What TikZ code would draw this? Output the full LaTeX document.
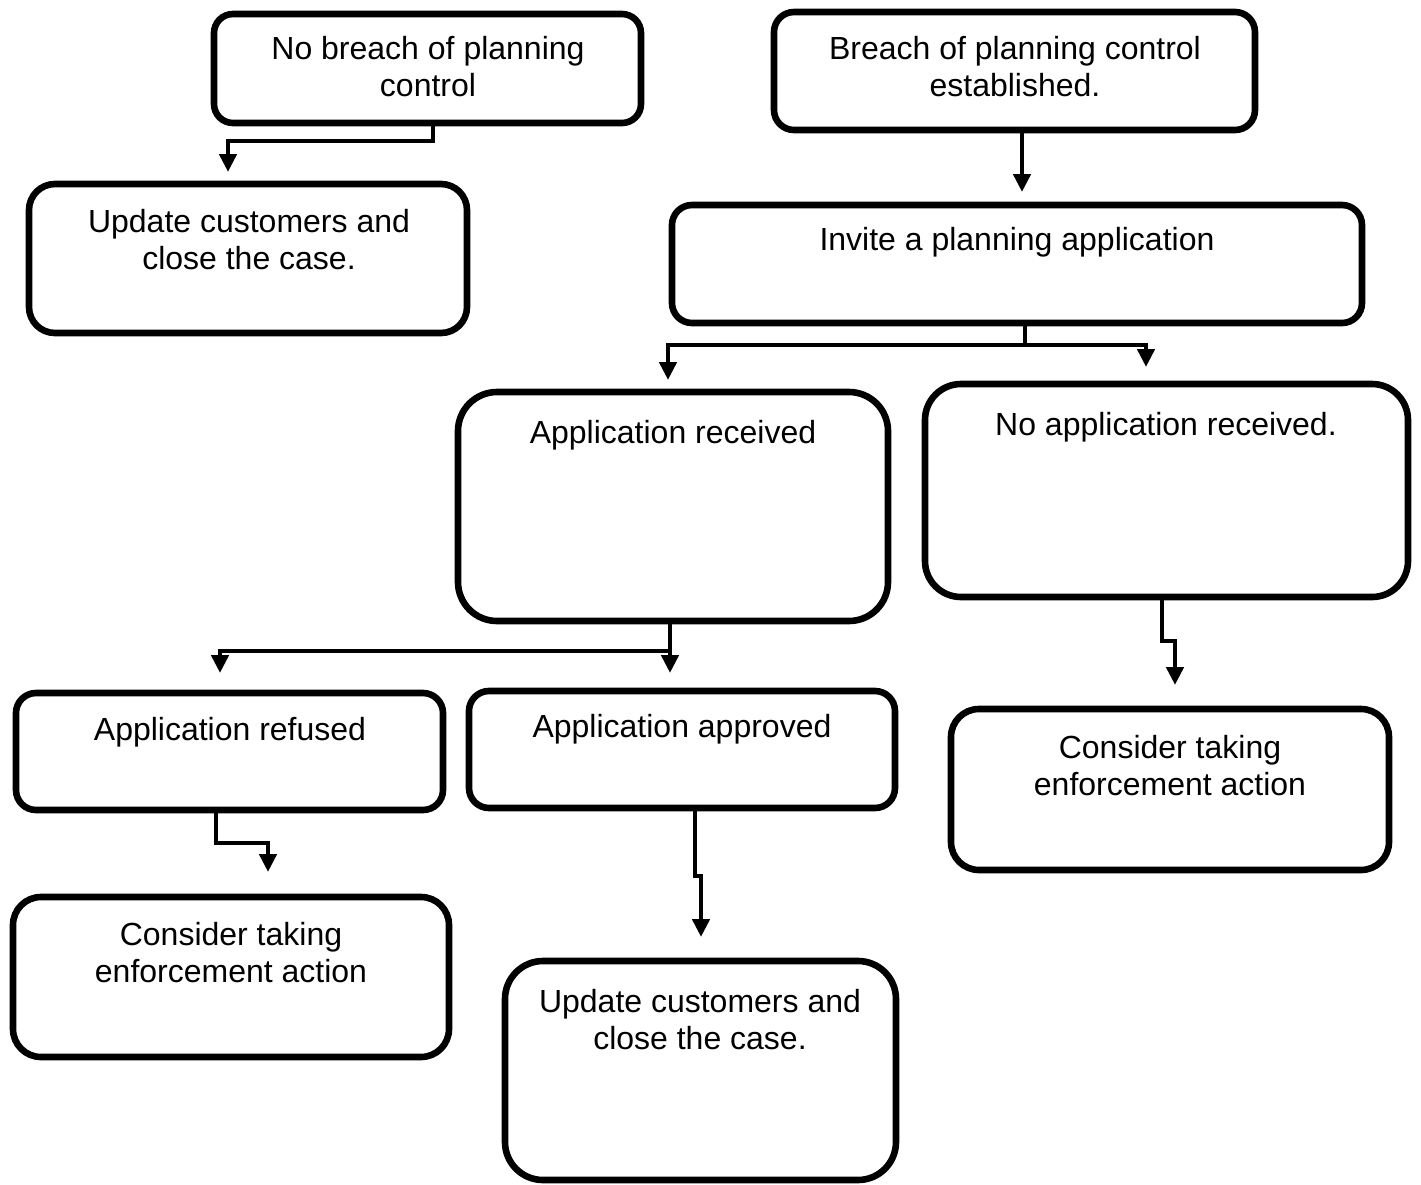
\documentclass[tikz,border=0pt]{standalone}
\usepackage{fontspec}
\setmainfont{Liberation Sans}
\usetikzlibrary{arrows.meta}
\begin{document}
\begin{tikzpicture}[x=0.5pt,y=-0.5pt,
  box/.style={draw=black, line width=3.3pt, fill=white, inner sep=0pt, shape=rectangle},
  lbl/.style={anchor=north, inner sep=0pt, align=center, font=\fontsize{16}{18.5}\selectfont},
  conn/.style={draw=black, line width=2.4pt, -{Triangle[width=8.5pt,length=9pt]}}
]
\useasboundingbox[fill=white] (0,0) rectangle (1421,1185);
% boxes
\node[box, rounded corners=9.5pt, minimum width=213.5pt, minimum height=54.5pt] (b1) at (427.5,68.5) {};
\node[box, rounded corners=10pt, minimum width=240.5pt, minimum height=59pt] (b2) at (1014.5,71) {};
\node[box, rounded corners=13pt, minimum width=219pt, minimum height=74.5pt] (b3) at (248,258.5) {};
\node[box, rounded corners=10pt, minimum width=345pt, minimum height=59pt] (b4) at (1017,264) {};
\node[box, rounded corners=19.5pt, minimum width=215pt, minimum height=114.5pt] (b5) at (673,506.5) {};
\node[box, rounded corners=18pt, minimum width=241.5pt, minimum height=106.5pt] (b6) at (1166.5,490.5) {};
\node[box, rounded corners=10pt, minimum width=213.5pt, minimum height=58.5pt] (b7) at (229.5,751.5) {};
\node[box, rounded corners=10pt, minimum width=213pt, minimum height=58.5pt] (b8) at (682,749.5) {};
\node[box, rounded corners=14pt, minimum width=219pt, minimum height=80.5pt] (b9) at (1170,789.5) {};
\node[box, rounded corners=14pt, minimum width=218pt, minimum height=80pt] (b10) at (231,977) {};
\node[box, rounded corners=19pt, minimum width=195.5pt, minimum height=109.5pt] (b11) at (700.5,1070.5) {};
% labels
\node[lbl] (t1) at (428,35) {\rule{0pt}{12pt}No breach of planning\\control};
\node[lbl] (t2) at (1015,35) {\rule{0pt}{12pt}Breach of planning control\\established.};
\node[lbl] (t3) at (249,208) {\rule{0pt}{12pt}Update customers and\\close the case.};
\node[lbl] (t4) at (1017,226) {\rule{0pt}{12pt}Invite a planning application};
\node[lbl] (t5) at (673,419) {\rule{0pt}{12pt}Application received};
\node[lbl] (t6) at (1166,411) {\rule{0pt}{12pt}No application received.};
\node[lbl] (t7) at (230,716) {\rule{0pt}{12pt}Application refused};
\node[lbl] (t8) at (682,713) {\rule{0pt}{12pt}Application approved};
\node[lbl] (t9) at (1170,734) {\rule{0pt}{12pt}Consider taking\\enforcement action};
\node[lbl] (t10) at (231,921) {\rule{0pt}{12pt}Consider taking\\enforcement action};
\node[lbl] (t11) at (700,988) {\rule{0pt}{12pt}Update customers and\\close the case.};
% connector coordinates
\coordinate (c1a) at (433,141);
\coordinate (c1b) at (228,141);
\coordinate (c1t) at (228,172);
\coordinate (c2t) at (1022,192);
\coordinate (c3a) at (1025,345);
\coordinate (c3l) at (668,345);
\coordinate (c3lt) at (668,380);
\coordinate (c3r) at (1146,345);
\coordinate (c3rt) at (1146,367);
\coordinate (c4a) at (670,651);
\coordinate (c4l) at (220,651);
\coordinate (c4lt) at (220,673);
\coordinate (c4t) at (670,673);
\coordinate (c5a) at (1162,641);
\coordinate (c5b) at (1175,641);
\coordinate (c5t) at (1175,685);
\coordinate (c6a) at (216,843);
\coordinate (c6b) at (268,843);
\coordinate (c6t) at (268,872);
\coordinate (c7a) at (695,876);
\coordinate (c7b) at (701,876);
\coordinate (c7t) at (701,937);
% connectors
\draw[conn] (b1.south -| c1a) -- (c1a) -- (c1b) -- (c1t);
\draw[conn] (b2.south -| c2t) -- (c2t);
\draw[conn] (b4.south -| c3a) -- (c3a) -- (c3l) -- (c3lt);
\draw[conn] (c3a) -- (c3r) -- (c3rt);
\draw[conn] (b5.south -| c4a) -- (c4a) -- (c4l) -- (c4lt);
\draw[conn] (c4a) -- (c4t);
\draw[conn] (b6.south -| c5a) -- (c5a) -- (c5b) -- (c5t);
\draw[conn] (b7.south -| c6a) -- (c6a) -- (c6b) -- (c6t);
\draw[conn] (b8.south -| c7a) -- (c7a) -- (c7b) -- (c7t);
\end{tikzpicture}
\end{document}
